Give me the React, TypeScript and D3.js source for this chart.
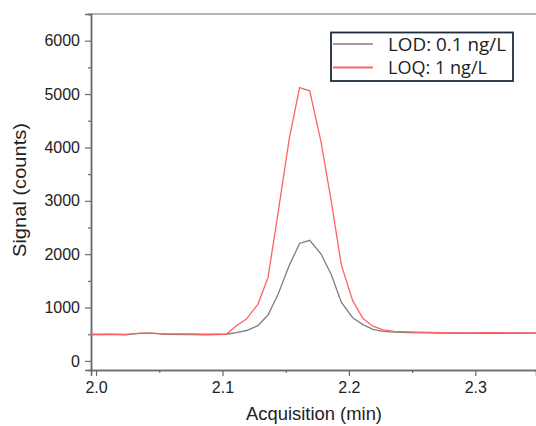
import React, { useRef, useEffect } from "react"
import * as d3 from "d3"

// acquisition time (min)
const times = [
  1.996, 2.011, 2.023, 2.035, 2.043, 2.055, 2.074, 2.086, 2.103, 2.111,
  2.119, 2.128, 2.136, 2.144, 2.153, 2.161, 2.169, 2.178, 2.186, 2.194,
  2.203, 2.211, 2.219, 2.227, 2.236, 2.248, 2.272, 2.296, 2.304, 2.32, 2.348,
]
const lodCounts = [
  495, 498, 490, 515, 520, 500, 495, 490, 500, 530,
  570, 660, 860, 1250, 1800, 2200, 2260, 2000, 1620, 1100,
  810, 680, 590, 555, 540, 530, 520, 518, 515, 518, 520,
]
const loqCounts = [
  495, 500, 498, 520, 522, 505, 505, 500, 500, 660,
  785, 1060, 1560, 2780, 4190, 5120, 5060, 4100, 3000, 1800,
  1130, 800, 650, 580, 555, 545, 530, 525, 530, 528, 525,
]
const legendLabels = ["LOD: 0.1 ng/L", "LOQ: 1 ng/L"]
const yTicks = [0, 1000, 2000, 3000, 4000, 5000, 6000]
const yMinor = [500, 1500, 2500, 3500, 4500, 5500, 6500]
const xTicks = [2.0, 2.1, 2.2, 2.3]
const xMinor = [2.05, 2.15, 2.25, 2.35]

const W = 536, H = 426

const App = () => {
  const ref = useRef<SVGSVGElement>(null)

  useEffect(() => {
    const svg = d3.select(ref.current)
    svg.selectAll("*").remove()

    const left = 91, right = 536, top = 14, bottom = 370
    const x = d3.scaleLinear().domain([1.996, 2.348]).range([left, right])
    const y = d3.scaleLinear().domain([-170, 6500]).range([bottom, top])
    const axisColor = "#6b6b6b"
    const font = "'Liberation Sans', Arial, sans-serif"

    svg.append("defs").append("clipPath").attr("id", "plot")
      .append("rect").attr("x", left).attr("y", top)
      .attr("width", right - left).attr("height", bottom - top)

    // frame top line
    svg.append("line")
      .attr("x1", left).attr("x2", right).attr("y1", top).attr("y2", top)
      .attr("stroke", axisColor).attr("stroke-width", 1.2)

    const styleAxis = (g) => {
      g.select(".domain").attr("stroke", axisColor).attr("stroke-width", 1.5)
      g.selectAll(".tick line").attr("stroke", axisColor).attr("stroke-width", 1.2)
      g.selectAll(".tick text").attr("fill", "#222").attr("font-size", 16).attr("font-family", font)
    }

    // y axis
    svg.append("g")
      .attr("transform", `translate(${left},0)`)
      .call(d3.axisLeft(y).tickValues(yMinor).tickSize(3).tickFormat(() => ""))
      .call(styleAxis)
    svg.append("g")
      .attr("transform", `translate(${left},0)`)
      .call(d3.axisLeft(y).tickValues(yTicks).tickSize(6).tickPadding(5).tickFormat(d3.format("d")))
      .call(styleAxis)

    // x axis
    svg.append("g")
      .attr("transform", `translate(0,${bottom})`)
      .call(d3.axisBottom(x).tickValues(xMinor).tickSize(3).tickFormat(() => ""))
      .call(styleAxis)
    svg.append("g")
      .attr("transform", `translate(0,${bottom})`)
      .call(d3.axisBottom(x).tickValues(xTicks).tickSize(6).tickPadding(6).tickFormat(d3.format(".1f")))
      .call(styleAxis)

    // axis titles
    svg.append("text")
      .attr("x", 246).attr("y", 420)
      .attr("font-size", 17.5).attr("font-family", font).attr("fill", "#222")
      .attr("textLength", 136).attr("lengthAdjust", "spacingAndGlyphs")
      .text("Acquisition (min)")
    svg.append("text")
      .attr("transform", `translate(26,257) rotate(-90)`)
      .attr("font-size", 17.5).attr("font-family", font).attr("fill", "#222")
      .attr("textLength", 134).attr("lengthAdjust", "spacingAndGlyphs")
      .text("Signal (counts)")

    const line = d3.line<number>()
      .x((d, i) => x(times[i]))
      .y(d => y(d))

    const series = [
      { values: lodCounts, color: "#7f7f7f" },
      { values: loqCounts, color: "#ff6262" },
    ]
    const plot = svg.append("g").attr("clip-path", "url(#plot)")
    series.forEach(s => {
      plot.append("path")
        .datum(s.values)
        .attr("d", line)
        .attr("fill", "none")
        .attr("stroke", s.color)
        .attr("stroke-width", 1.3)
    })

    // legend
    const lg = svg.append("g")
    lg.append("rect")
      .attr("x", 331).attr("y", 32.5).attr("width", 182).attr("height", 48.5)
      .attr("fill", "white").attr("stroke", "#1e2b3a").attr("stroke-width", 1.8)
    const legendWidths = [118, 99]
    legendLabels.forEach((label, i) => {
      const ly = 44 + i * 23.5
      lg.append("line")
        .attr("x1", 333).attr("x2", 373).attr("y1", ly).attr("y2", ly)
        .attr("stroke", series[i].color).attr("stroke-width", i === 1 ? 1.8 : 1.3)
      lg.append("text")
        .attr("x", 388).attr("y", ly + 6.6)
        .attr("font-size", 18).attr("font-family", "'Open Sans', 'Noto Sans', sans-serif")
        .attr("fill", "#222")
        .attr("textLength", legendWidths[i]).attr("lengthAdjust", "spacingAndGlyphs")
        .text(label)
    })
  }, [])

  return (
    <svg ref={ref} width={W} height={H}
      style={{ position: "absolute", left: 0, top: 0, background: "white" }} />
  )
}

export default App
